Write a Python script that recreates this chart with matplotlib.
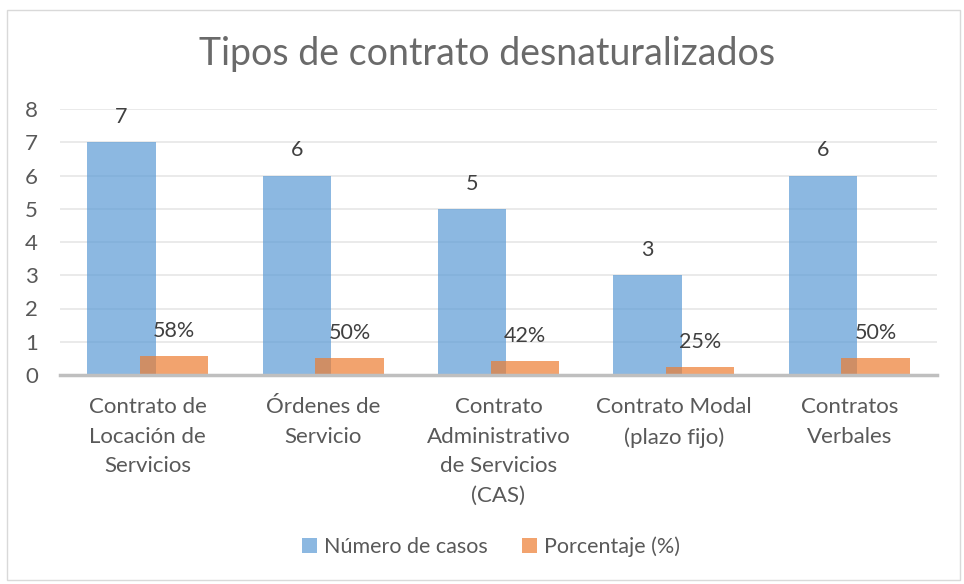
import matplotlib
matplotlib.use("Agg")
import matplotlib.pyplot as plt
import numpy as np
from matplotlib.patches import Rectangle

# datos
categorias = ["Contrato de\nLocación de\nServicios", "Órdenes de\nServicio",
              "Contrato\nAdministrativo\nde Servicios\n(CAS)", "Contrato Modal\n(plazo fijo)",
              "Contratos\nVerbales"]
casos = [7, 6, 5, 3, 6]
porcentaje = [0.58, 0.50, 0.42, 0.25, 0.50]
etiquetas_pct = ["58%", "50%", "42%", "25%", "50%"]

plt.rcParams["font.family"] = ["Lato", "DejaVu Sans"]
gris = "#595959"

fig = plt.figure(figsize=(9.64, 5.84), dpi=100)
fig.patches.append(Rectangle((7 / 964, 4 / 584), 953 / 964, 570 / 584, transform=fig.transFigure,
                             fill=False, edgecolor="#D9D9D9", linewidth=1))
ax = fig.add_axes([60 / 964, 1 - 375 / 584, 877 / 964, 266 / 584])

x = np.arange(len(categorias))
w = 0.39
b1 = ax.bar(x - 0.15, casos, w, color="#5B9BD5", alpha=0.7, label="Número de casos", zorder=2)
b2 = ax.bar(x + 0.15, porcentaje, w, color="#ED7D31", alpha=0.7, label="Porcentaje (%)", zorder=3)

for bar, v in zip(b1, casos):
    ax.annotate(str(v), xy=(bar.get_x() + bar.get_width() / 2, bar.get_height()),
                xytext=(0, 18), textcoords="offset points", ha="center", va="center",
                fontsize=15.5, color="#404040")
for bar, t in zip(b2, etiquetas_pct):
    ax.annotate(t, xy=(bar.get_x() + bar.get_width() / 2, bar.get_height()),
                xytext=(0, 18), textcoords="offset points", ha="center", va="center",
                fontsize=15.5, color="#404040")

ax.set_xlim(-0.5, len(categorias) - 0.5)
ax.set_ylim(0, 8)
ax.set_yticks(range(0, 9))
ax.yaxis.grid(True, color="#E6E6E6", linewidth=1.2, zorder=0)
ax.set_axisbelow(True)
for s in ["top", "right", "left"]:
    ax.spines[s].set_visible(False)
ax.spines["bottom"].set_color("#BFBFBF")
ax.spines["bottom"].set_linewidth(2.5)
ax.spines["bottom"].set_zorder(4)
ax.tick_params(axis="both", length=0, labelsize=16, colors=gris)
ax.tick_params(axis="x", pad=16)
ax.tick_params(axis="y", pad=16)
ax.set_xticks(x)
ax.set_xticklabels(categorias, linespacing=1.6)

fig.text(487 / 964, 1 - 54 / 584, "Tipos de contrato desnaturalizados", ha="center", va="center",
         fontsize=27, color="#6A6A6A")

fig.legend(handles=[b1, b2], loc="center", bbox_to_anchor=(491 / 964, 1 - 547 / 584), ncol=2,
           frameon=False, fontsize=15.5, labelcolor=gris, handlelength=0.7, handleheight=0.7,
           handletextpad=0.3, columnspacing=1.6)

plt.savefig("out.png", dpi=100)
plt.close()
